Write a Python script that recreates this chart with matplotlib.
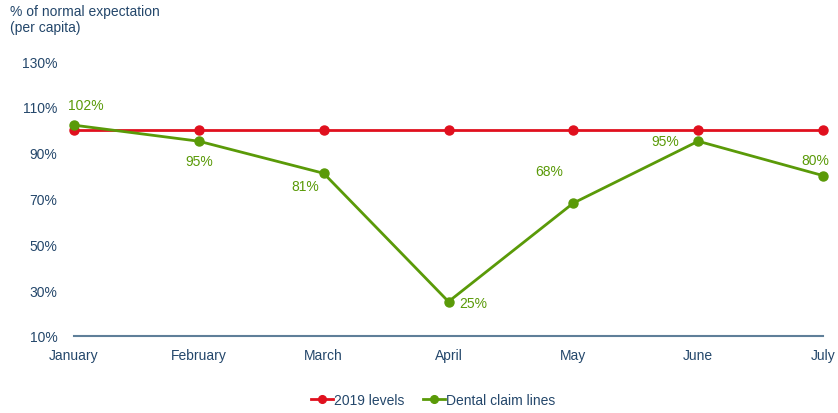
import matplotlib
matplotlib.use("Agg")
import matplotlib.pyplot as plt

months = ["January", "February", "March", "April", "May", "June", "July"]
levels_2019 = [100, 100, 100, 100, 100, 100, 100]
dental = [102, 95, 81, 25, 68, 95, 80]
yticks = [10, 30, 50, 70, 90, 110, 130]
# label offsets in pixels (dx, dy) relative to each dental point
label_offsets = [(12, 20), (0, -20), (-18, -13), (25, -1), (-24, 32), (-33, 0), (-8, 16)]

plt.rcParams['font.family'] = ['Liberation Sans', 'DejaVu Sans']
text_col = "#24476B"
red = "#E0101E"
green = "#5A9A08"

fig = plt.figure(figsize=(8.38, 4.14), dpi=100)
ax = fig.add_axes([74/838, 1-337/414, (823-74)/838, (337-62)/414])
x = list(range(len(months)))
ax.plot(x, levels_2019, color=red, lw=2, marker='o', ms=6.5, label="2019 levels", zorder=3, clip_on=False)
ax.plot(x, dental, color=green, lw=2, marker='o', ms=6.5, label="Dental claim lines", zorder=4, clip_on=False)

for xi, v, (dx, dy) in zip(x, dental, label_offsets):
    ax.annotate(f"{v}%", (xi, v), xytext=(dx, dy), textcoords='offset pixels',
                ha='center', va='center', color=green, fontsize=10)

ax.set_xlim(0, len(months)-1)
ax.set_ylim(10, 130)
ax.set_yticks(yticks)
ax.set_yticklabels([f"{t}%" for t in yticks])
ax.set_xticks(x)
ax.set_xticklabels(months)
for s in ["top", "right", "left"]:
    ax.spines[s].set_visible(False)
ax.spines["bottom"].set_color("#5F7F99")
ax.spines["bottom"].set_linewidth(1.5)
ax.tick_params(axis='both', length=0, colors=text_col, labelsize=10)
ax.tick_params(axis='y', pad=12)
ax.tick_params(axis='x', pad=9)
for lab in ax.get_xticklabels() + ax.get_yticklabels():
    lab.set_color(text_col)

fig.text(10/838, 1-5/414, "% of normal expectation\n(per capita)", ha='left', va='top',
         color=text_col, fontsize=10, linespacing=1.15)

leg = fig.legend(loc='center', bbox_to_anchor=(433/838, 1-401/414), ncol=2, frameon=False,
                 fontsize=10, handlelength=1.6, handletextpad=0.1, columnspacing=1.3,
                 markerscale=0.85)
for t in leg.get_texts():
    t.set_color(text_col)

fig.savefig("out.png", dpi=100)
